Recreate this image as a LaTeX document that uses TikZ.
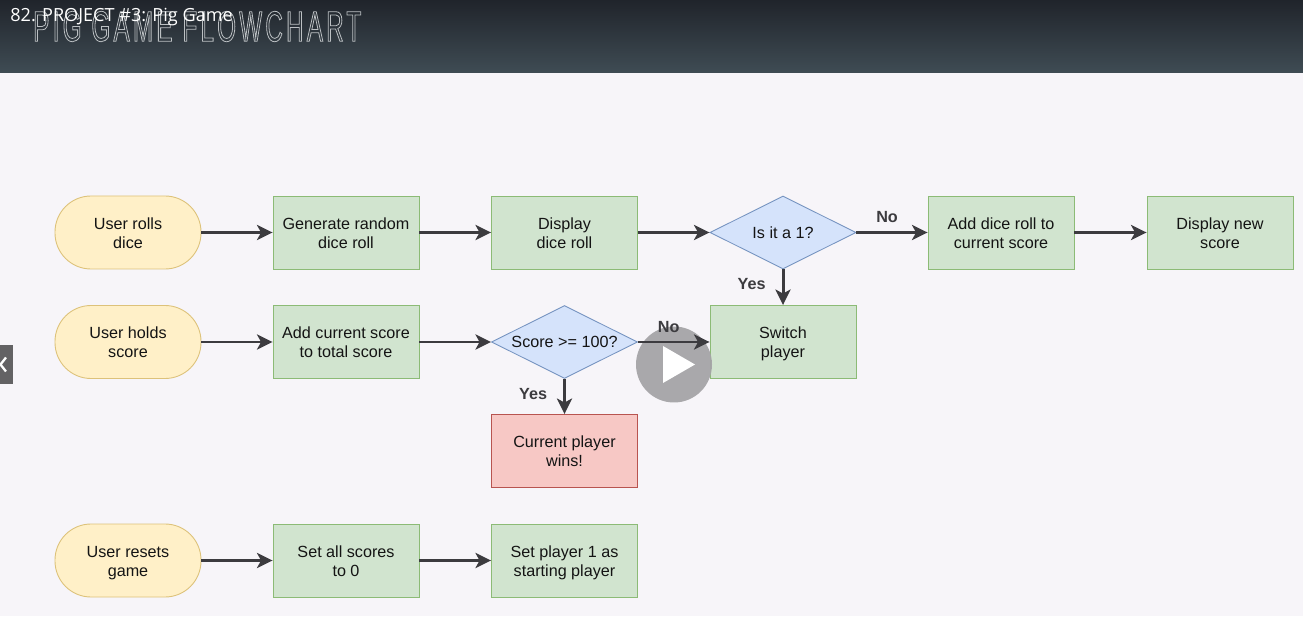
\documentclass[tikz,border=0pt]{standalone}
\usepackage{fontspec}
\usetikzlibrary{arrows.meta,shapes.geometric}
\setmainfont{Liberation Sans}
\newfontfamily\captionfont{Open Sans}
\newfontfamily\bannerfont[FakeStretch=0.56,LetterSpace=7.7]{Liberation Sans}
\definecolor{pagebg}{HTML}{F7F5F9}
\definecolor{flowink}{HTML}{3C3B3F}
\definecolor{startfill}{HTML}{FFF0C8}
\definecolor{startline}{HTML}{DDC27A}
\definecolor{stepfill}{HTML}{D1E4CF}
\definecolor{stepline}{HTML}{8CBB76}
\definecolor{endfill}{HTML}{F7C8C5}
\definecolor{endline}{HTML}{B85450}
\definecolor{testfill}{HTML}{D5E3FB}
\definecolor{testline}{HTML}{7593C0}
\definecolor{bartop}{HTML}{20242B}
\definecolor{barbottom}{HTML}{3F4C54}
\tikzset{
  box/.style={draw,line width=0.5pt,minimum width=2.92cm,minimum height=1.46cm,
    inner sep=0pt,align=center,text=black!92,font=\fontsize{9.2}{10.8}\selectfont},
  twolines/.style={box,text height=19.7pt,text depth=2pt},
  startbox/.style={twolines,rounded corners=0.72cm,draw=startline,fill=startfill},
  stepbox/.style={twolines,draw=stepline,fill=stepfill},
  endbox/.style={twolines,draw=endline,fill=endfill},
  testbox/.style={box,diamond,aspect=2,draw=testline,fill=testfill},
  flow/.style={draw=flowink,line width=1.7pt,-{Stealth[length=3.1mm,width=3mm,inset=0.8mm]}},
  flowlabel/.style={text=flowink,font=\fontsize{9.2}{10.8}\bfseries\selectfont,inner sep=0pt}
}
\begin{document}
\begin{tikzpicture}
\path[use as bounding box,fill=pagebg] (0,0) rectangle (26.06,12.32);
\fill[top color=bartop,bottom color=barbottom] (0,10.86) rectangle (26.06,12.32);

\node[anchor=west,inner sep=0pt,text=white!65!barbottom] (banner) at (0.66,11.79)
 {\fontsize{24.5}{25}\bannerfont\special{pdf:literal 1 Tr 0.45 w}PIG GAME FLOWCHART\special{pdf:literal 0 Tr}};
\node[anchor=west,inner sep=0pt,text=white] (lesson) at (0.2,11.98)
 {\fontsize{10.3}{12}\captionfont 82. PROJECT \#3: Pig Game};

\node[startbox] (rolls) at (2.56,7.67) {User rolls\\dice};
\node[stepbox] (random) at (6.92,7.67) {Generate random\\dice roll};
\node[stepbox] (showroll) at (11.29,7.67) {Display\\dice roll};
\node[testbox] (isone) at (15.66,7.67) {Is it a 1?};
\node[stepbox] (addroll) at (20.02,7.67) {Add dice roll to\\current score};
\node[stepbox] (showscore) at (24.40,7.67) {Display new\\score};

\node[startbox] (holds) at (2.56,5.48) {User holds\\score};
\node[stepbox] (addtotal) at (6.92,5.48) {Add current score\\to total score};
\node[testbox] (isend) at (11.29,5.48) {Score >= 100?};
\node[stepbox] (switch) at (15.66,5.48) {Switch\\player};
\node[endbox] (wins) at (11.29,3.30) {Current player\\wins!};

\node[startbox] (resets) at (2.56,1.11) {User resets\\game};
\node[stepbox] (zero) at (6.92,1.11) {Set all scores\\to 0};
\node[stepbox] (first) at (11.29,1.11) {Set player 1 as\\starting player};

\fill[fill=black!33!pagebg,fill opacity=0.95] (13.48,5.03) circle (0.76);
\fill[white] (13.26,5.40) -- (13.26,4.66) -- (13.90,5.03) -- cycle;
\fill[fill=black!60!pagebg] (0,4.64) rectangle (0.26,5.42);
\draw[white,line width=1.3pt] (0.12,5.17) -- (0.01,5.03) -- (0.12,4.89);

\draw[flow] (rolls) to (random);
\draw[flow] (random) to (showroll);
\draw[flow] (showroll) to (isone);
\draw[flow] (isone) to node[flowlabel,above=1.6mm,pos=0.43] {No} (addroll);
\draw[flow] (addroll) to (showscore);
\draw[flow] (isone) to node[flowlabel,left=3.2mm,pos=0.42] {Yes} (switch);

\draw[flow] (holds) to (addtotal);
\draw[flow] (addtotal) to (isend);
\draw[flow] (isend) to node[flowlabel,above=1.6mm,pos=0.43] {No} (switch);
\draw[flow] (isend) to node[flowlabel,left=3.2mm,pos=0.42] {Yes} (wins);

\draw[flow] (resets) to (zero);
\draw[flow] (zero) to (first);
\end{tikzpicture}
\end{document}
